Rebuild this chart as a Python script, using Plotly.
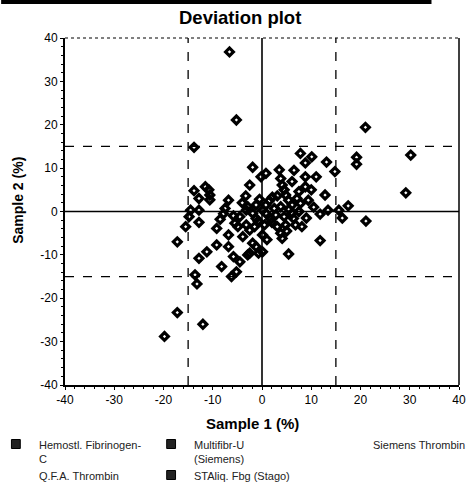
import plotly.graph_objects as go

# ---- data ----
sample1 = [
    -6.6, -5.2, -13.8, 7.8, 10.1, 8.8, 13.1, 19.2, 19.2, 21.0, 30.2, 14.8,
    -1.9, -0.2, 0.8, 3.5, 3.8, 8.8, 8.8, 6.1, 4.1, -2.5, -11.5, -10.8,
    -13.8, -10.6, -10.6, -12.8, -6.8, -3.3, 2.1, 3.1, 4.8, 5.4, 7.1, 4.5,
    7.5, 9.4, 12.8, 0.8, 2.5, 3.8, 6.1, 7.8, -2.9, -1.2, -7.5, -7.8,
    -12.8, -14.5, 13.4, 15.6, 17.5, 11.8, 16.3, -3.2, 0.1, 0.8, -1.9, -4.5,
    -1.2, 2.8, 4.5, 6.4, 7.5, -5.5, -4.9, -9.2, -12.8, -15.5, -3.2, -1.5,
    -2.5, 0.5, 3.1, 4.8, 6.8, 8.1, 3.8, 4.1, -6.8, -3.9, 0.1, 11.8,
    -17.2, -9.2, -6.8, -1.9, -1.2, 0.1, -2.5, -0.7, -11.2, -12.8, -5.8, -2.9,
    -4.5, 5.4, -8.2, -5.2, -13.6, -6.2, -13.2, -17.2, -19.8, -12.0, 29.2, 21.1,
    -14.8, 6.1, 1.5, -0.5, 1.8, -0.8, 2.0, 5.5, 9.0, 10.5, -4.0, -5.8,
    -8.5, 1.0, 5.0, 10.0, 6.5, 11.0,
]
sample2 = [
    36.8, 21.1, 14.8, 13.4, 12.6, 11.2, 11.4, 12.5, 10.9, 19.4, 13.0, 9.2,
    10.2, 8.0, 8.8, 9.6, 7.6, 8.0, 5.7, 6.9, 6.1, 6.1, 5.7, 5.0,
    4.8, 3.8, 2.7, 3.0, 2.6, 3.6, 3.3, 3.6, 3.8, 2.6, 3.0, 5.0,
    4.6, 2.6, 3.8, 1.5, 0.7, 1.1, 1.5, 1.9, 1.1, 1.5, 0.7, -0.5,
    0.3, 0.3, 0.3, 0.3, 1.3, -0.6, -1.5, 0.3, 0.3, -0.4, -0.4, -1.2,
    -1.6, -0.8, -1.2, -1.6, 0.0, -2.7, -3.5, -3.9, -2.5, -3.5, -3.1, -3.5,
    -4.3, -3.1, -3.5, -3.1, -3.1, -3.5, -5.0, -6.2, -5.4, -5.8, -5.4, -6.7,
    -7.0, -7.7, -8.1, -7.3, -8.1, -9.3, -9.6, -9.6, -9.3, -10.8, -10.4, -10.0,
    -11.6, -9.8, -12.7, -13.9, -14.6, -15.0, -16.7, -23.3, -28.8, -26.0, 4.3, -2.2,
    -1.2, -0.4, 2.5, 2.8, -1.8, -2.2, -2.5, 0.5, -1.5, 1.0, 2.0, -1.0,
    -1.8, -6.5, -4.5, 5.0, 9.5, 8.0,
]

axis_ticks = [-40, -30, -20, -10, 0, 10, 20, 30, 40]
zero_lines = [0]
limit_lines = [-15, 15]

title_text = "Deviation plot"
x_title = "Sample 1 (%)"
y_title = "Sample 2 (%)"

legend_rows = [
    # (marker?, text, pixel x, pixel y) in reference image pixels
    (True, "Hemostl. Fibrinogen-<br>C", 15, 444),
    (False, "Q.F.A. Thrombin", 15, 475),
    (True, "Multifibr-U<br>(Siemens)", 173, 444),
    (True, "STAliq. Fbg (Stago)", 173, 475),
    (False, "Siemens Thrombin", 355, 444),
]

# ---- layout geometry (reference pixels) ----
W, H = 475, 486
L, R, T, B = 65, 466, 38, 385
FONT = "Liberation Sans, Arial, sans-serif"


def px2paper(x, y):
    return (x - L) / (R - L), (B - y) / (B - T)


fig = go.Figure()
fig.add_trace(go.Scatter(
    x=sample1, y=sample2, mode="markers",
    marker=dict(symbol="diamond-open", size=6, color="black",
                line=dict(color="black", width=3.2)),
    showlegend=False, hoverinfo="x+y",
))

shapes = []
for v in zero_lines:
    shapes.append(dict(type="line", xref="x", yref="paper", x0=v, x1=v, y0=0, y1=1,
                       layer="below", line=dict(color="black", width=1.6)))
    shapes.append(dict(type="line", xref="paper", yref="y", x0=0, x1=1, y0=v, y1=v,
                       layer="below", line=dict(color="black", width=1.6)))
for v in limit_lines:
    shapes.append(dict(type="line", xref="x", yref="paper", x0=v, x1=v, y0=0, y1=1,
                       layer="below", line=dict(color="black", width=1.3, dash="dash")))
    shapes.append(dict(type="line", xref="paper", yref="y", x0=0, x1=1, y0=v, y1=v,
                       layer="below", line=dict(color="black", width=1.3, dash="dash")))
# top dotted border, right solid border
shapes.append(dict(type="line", xref="paper", yref="paper", x0=0, x1=1, y0=1, y1=1,
                   line=dict(color="black", width=1, dash="dot")))
shapes.append(dict(type="line", xref="paper", yref="paper", x0=1, x1=1, y0=0, y1=1,
                   line=dict(color="black", width=1.5)))
# black bar at very top of the image
bx0, by0 = px2paper(0, 0)
bx1, by1 = px2paper(438, 4)
shapes.append(dict(type="rect", xref="paper", yref="paper", x0=bx0, x1=bx1, y0=by1, y1=by0,
                   fillcolor="black", line=dict(width=0)))

annotations = []
for has_marker, text, lx, ly in legend_rows:
    if has_marker:
        ax0, ay0 = px2paper(lx - 4.5, ly - 4.5)
        ax1, ay1 = px2paper(lx + 4.5, ly + 4.5)
        shapes.append(dict(type="rect", xref="paper", yref="paper",
                           x0=ax0, x1=ax1, y0=ay0, y1=ay1,
                           fillcolor="#222", line=dict(color="black", width=1)))
    tx, ty = px2paper(lx + 21, ly - 7)
    annotations.append(dict(text=text, xref="paper", yref="paper", x=tx, y=ty,
                            xanchor="left", yanchor="top", showarrow=False, align="left",
                            font=dict(family=FONT, size=11, color="#222")))

# titles
tx, ty = px2paper(243, 17)
annotations.append(dict(text="<b>" + title_text + "</b>", xref="paper", yref="paper",
                        x=tx, y=ty, xanchor="center", yanchor="middle", showarrow=False,
                        font=dict(family=FONT, size=18.5, color="black")))
tx, ty = px2paper(256, 423)
annotations.append(dict(text="<b>" + x_title + "</b>", xref="paper", yref="paper",
                        x=tx, y=ty, xanchor="center", yanchor="middle", showarrow=False,
                        font=dict(family=FONT, size=15, color="black")))
tx, ty = px2paper(17, 200)
annotations.append(dict(text="<b>" + y_title + "</b>", xref="paper", yref="paper",
                        x=tx, y=ty, xanchor="center", yanchor="middle", showarrow=False,
                        textangle=-90, font=dict(family=FONT, size=14, color="black")))

axis_common = dict(
    range=[-40, 40], tickvals=axis_ticks, ticktext=[str(t) for t in axis_ticks],
    showgrid=False, zeroline=False, showline=True, linecolor="black", linewidth=2,
    ticks="outside", ticklen=3, tickcolor="black", tickwidth=1,
    minor=dict(ticks="outside", ticklen=2, dtick=2, tickcolor="black"),
    tickfont=dict(family=FONT, size=12, color="black"), fixedrange=True,
)

fig.update_layout(
    width=W, height=H,
    margin=dict(l=L, r=W - R, t=T, b=H - B, pad=0),
    paper_bgcolor="white", plot_bgcolor="white",
    xaxis=axis_common, yaxis=axis_common,
    shapes=shapes, annotations=annotations,
    showlegend=False,
)

fig.write_html(
    "out.html",
    config={"displayModeBar": False},
    post_script="document.body.style.margin='0';document.body.style.padding='0';"
                "document.body.style.overflow='hidden';",
)
